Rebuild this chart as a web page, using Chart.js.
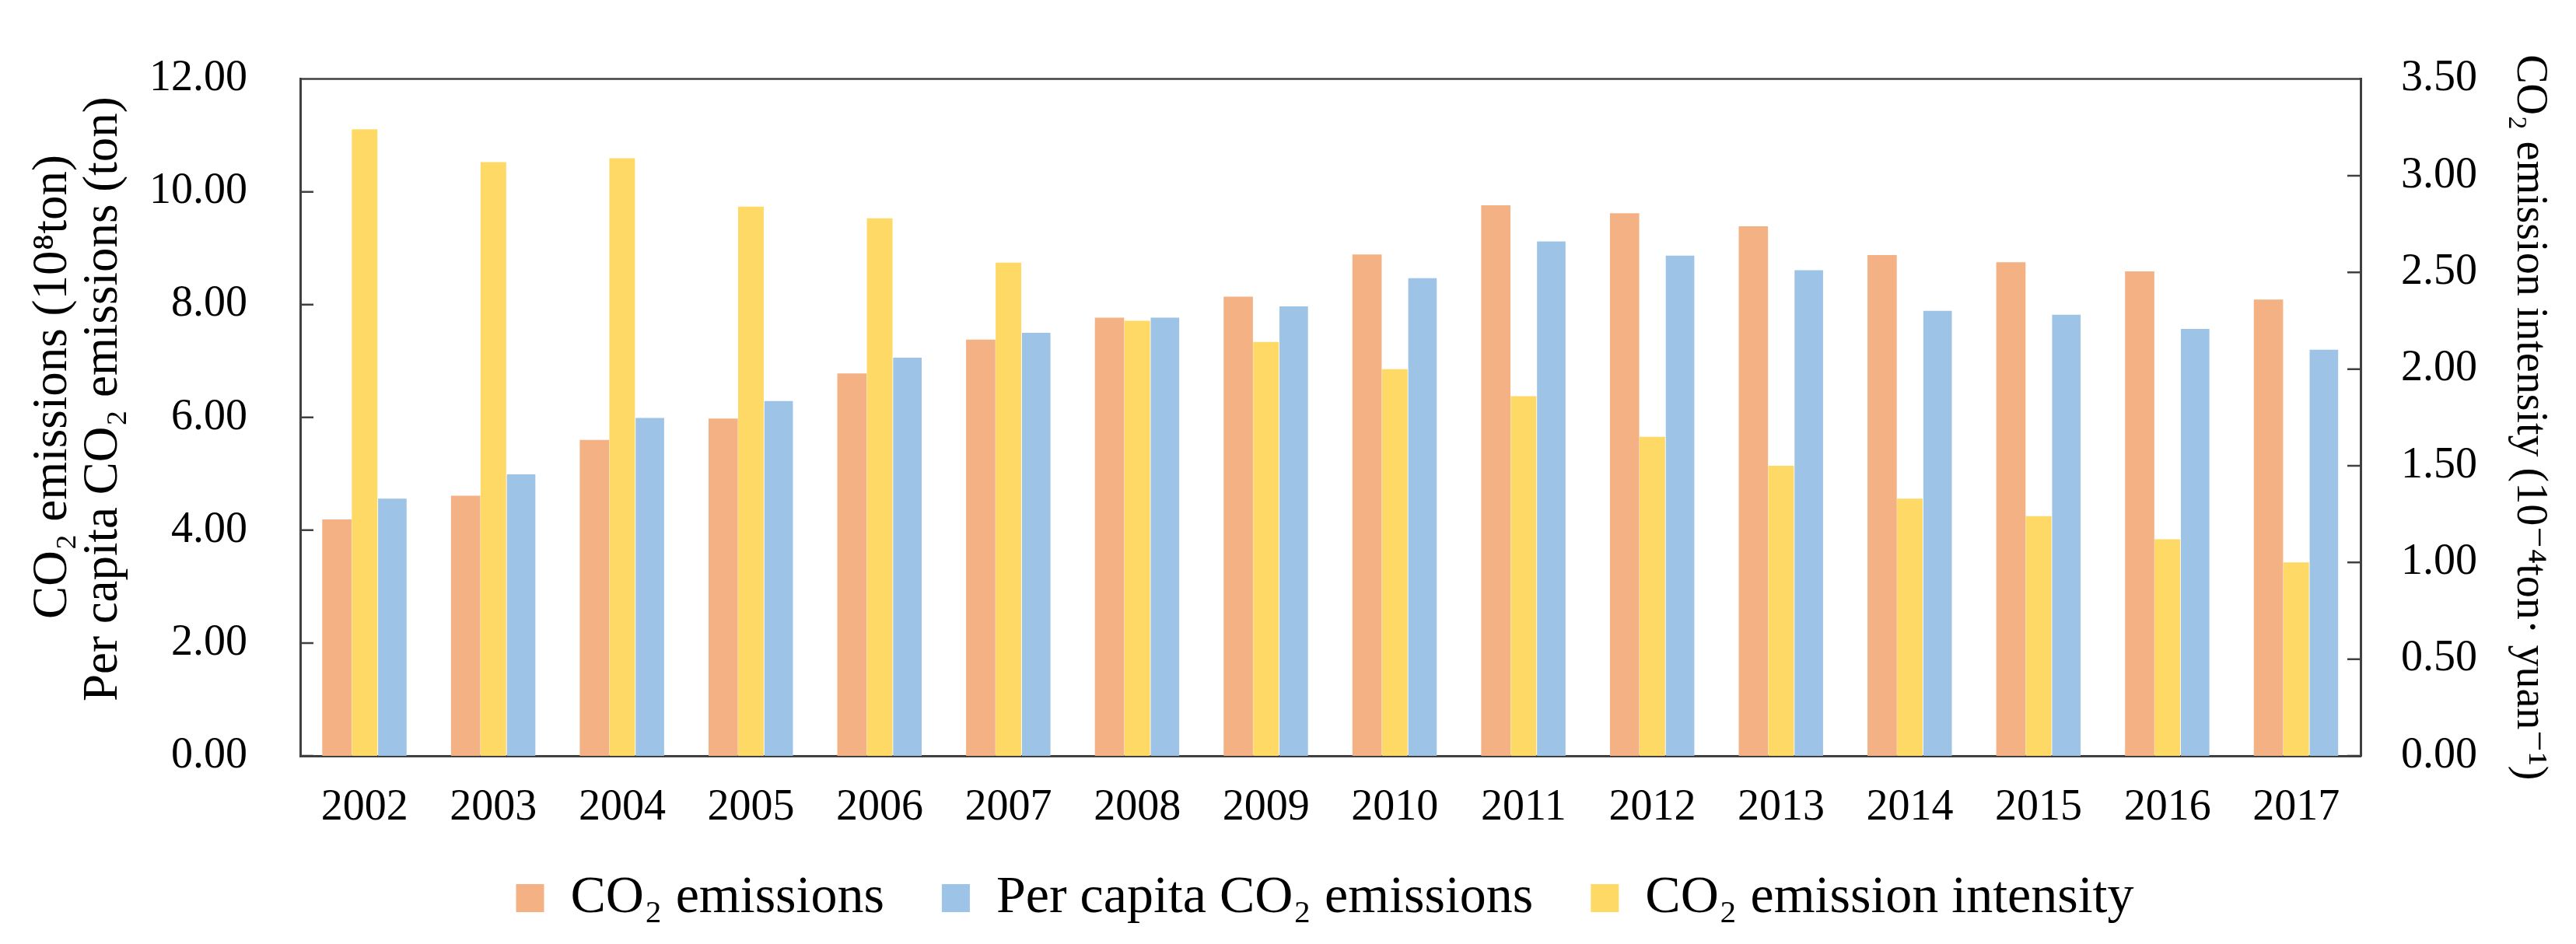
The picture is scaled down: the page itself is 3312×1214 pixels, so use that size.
<!DOCTYPE html>
<html>
<head>
    <meta charset="UTF-8">
    <script src="https://cdn.jsdelivr.net/npm/chart.js@4.4.1/dist/chart.umd.min.js" type="text/javascript"></script>
    <title>CO2 emissions 2002-2017</title>
    <style>
        html, body { margin: 0; padding: 0; background: #fff; }
        #wrap { width: 3312px; height: 1214px; position: relative; }
    </style>
</head>
<body>
    <div id="wrap"><canvas id="myChart"></canvas></div>
    <script type="text/javascript">
        const years = ['2002', '2003', '2004', '2005', '2006', '2007', '2008', '2009',
                       '2010', '2011', '2012', '2013', '2014', '2015', '2016', '2017'];
        // 10^8 ton
        const co2Emissions = [4.19, 4.61, 5.60, 5.98, 6.78, 7.38, 7.77, 8.14,
                              8.89, 9.76, 9.62, 9.39, 8.88, 8.75, 8.59, 8.09];
        // ton per person
        const perCapitaEmissions = [4.56, 4.99, 5.99, 6.29, 7.06, 7.50, 7.77, 7.97,
                                    8.47, 9.12, 8.87, 8.61, 7.89, 7.82, 7.57, 7.20];
        // 10^-4 ton per yuan
        const emissionIntensity = [3.24, 3.07, 3.09, 2.84, 2.78, 2.55, 2.25, 2.14,
                                   2.00, 1.86, 1.65, 1.50, 1.33, 1.24, 1.12, 1.00];
        const legendOrder = [0, 2, 1];

        const serif = "'Liberation Serif', 'Times New Roman', 'DejaVu Serif', serif";
        const axisColor = '#404040';
        const nb = '\u00a0';

        Chart.defaults.font.family = serif;
        Chart.defaults.color = '#000';

        // top frame line + ticks pointing into the plot
        const frame = {
            id: 'frame',
            afterDraw(chart) {
                const ctx = chart.ctx;
                const a = chart.chartArea;
                const y = chart.scales.y;
                const y1 = chart.scales.y1;
                ctx.save();
                ctx.strokeStyle = axisColor;
                ctx.lineWidth = 2.5;
                ctx.beginPath();
                ctx.moveTo(a.left, a.top);
                ctx.lineTo(a.right, a.top);
                y.ticks.forEach(function(t) {
                    const py = y.getPixelForValue(t.value);
                    ctx.moveTo(a.left, py);
                    ctx.lineTo(a.left + 17, py);
                });
                y1.ticks.forEach(function(t) {
                    const py = y1.getPixelForValue(t.value);
                    ctx.moveTo(a.right, py);
                    ctx.lineTo(a.right - 17, py);
                });
                ctx.stroke();
                ctx.restore();
            }
        };

        const ctx = document.getElementById('myChart').getContext('2d');
        const myChart = new Chart(ctx, {
            type: 'bar',
            data: {
                labels: years,
                datasets: [{
                    label: 'CO₂ emissions',
                    data: co2Emissions,
                    backgroundColor: '#F4B183',
                    yAxisID: 'y',
                    barPercentage: 1.056
                }, {
                    label: 'CO₂ emission intensity',
                    data: emissionIntensity,
                    backgroundColor: '#FFD966',
                    yAxisID: 'y1',
                    barPercentage: 0.924
                }, {
                    label: 'Per capita CO₂ emissions',
                    data: perCapitaEmissions,
                    backgroundColor: '#9DC3E6',
                    yAxisID: 'y',
                    barPercentage: 1.028
                }]
            },
            options: {
                responsive: true,
                maintainAspectRatio: false,
                devicePixelRatio: 1,
                animation: false,
                categoryPercentage: 0.646,
                layout: { padding: { left: 95, right: 0, top: 68, bottom: 15 } },
                plugins: {
                    tooltip: { enabled: false },
                    legend: {
                        position: 'bottom',
                        // empty title with negative padding pulls the row up
                        // so the item spacing can stay wide
                        title: { display: true, text: '', font: { size: 10, lineHeight: 1 }, padding: { top: -45, bottom: 0 } },
                        labels: {
                            boxWidth: 36,
                            boxHeight: 36,
                            padding: 74,
                            color: '#000',
                            font: { family: serif, size: 68 },
                            sort: function(a, b) {
                                return legendOrder.indexOf(a.datasetIndex) - legendOrder.indexOf(b.datasetIndex);
                            }
                        }
                    }
                },
                scales: {
                    x: {
                        grid: { display: false, drawTicks: false },
                        border: { display: true, color: axisColor, width: 3 },
                        ticks: { font: { size: 56 }, color: '#000', padding: 34, maxRotation: 0, autoSkip: false },
                        afterFit: function(s) { s.height = 110; }
                    },
                    y: {
                        position: 'left',
                        min: 0,
                        max: 12,
                        grid: { display: false, drawTicks: false },
                        border: { display: true, color: axisColor, width: 3 },
                        ticks: {
                            stepSize: 2,
                            padding: 68,
                            color: '#000',
                            font: { size: 56 },
                            callback: function(v) { return Number(v).toFixed(2); }
                        },
                        title: {
                            display: true,
                            // leading spaces nudge each line a bit upwards, as in the original
                            text: [nb.repeat(5) + 'CO₂ emissions (10⁸ton)', nb.repeat(3) + 'Per capita CO₂ emissions (ton)'],
                            color: '#000',
                            font: { size: 63, lineHeight: 65 / 63 },
                            padding: { top: -59.5, bottom: 0 }
                        },
                        afterFit: function(s) { s.width = 291; }
                    },
                    y1: {
                        position: 'right',
                        min: 0,
                        max: 3.5,
                        grid: { display: false, drawTicks: false },
                        border: { display: true, color: axisColor, width: 3 },
                        ticks: {
                            stepSize: 0.5,
                            padding: 52,
                            color: '#000',
                            font: { size: 56 },
                            callback: function(v) { return Number(v).toFixed(2); }
                        },
                        title: {
                            display: true,
                            text: 'CO₂ emission intensity (10⁻⁴ton· yuan⁻¹)',
                            color: '#000',
                            font: { size: 56, lineHeight: 65 / 56 },
                            padding: { top: 27.5, bottom: 0 }
                        },
                        afterFit: function(s) { s.width = 277; }
                    }
                }
            },
            plugins: [frame]
        });
    </script>
</body>
</html>
